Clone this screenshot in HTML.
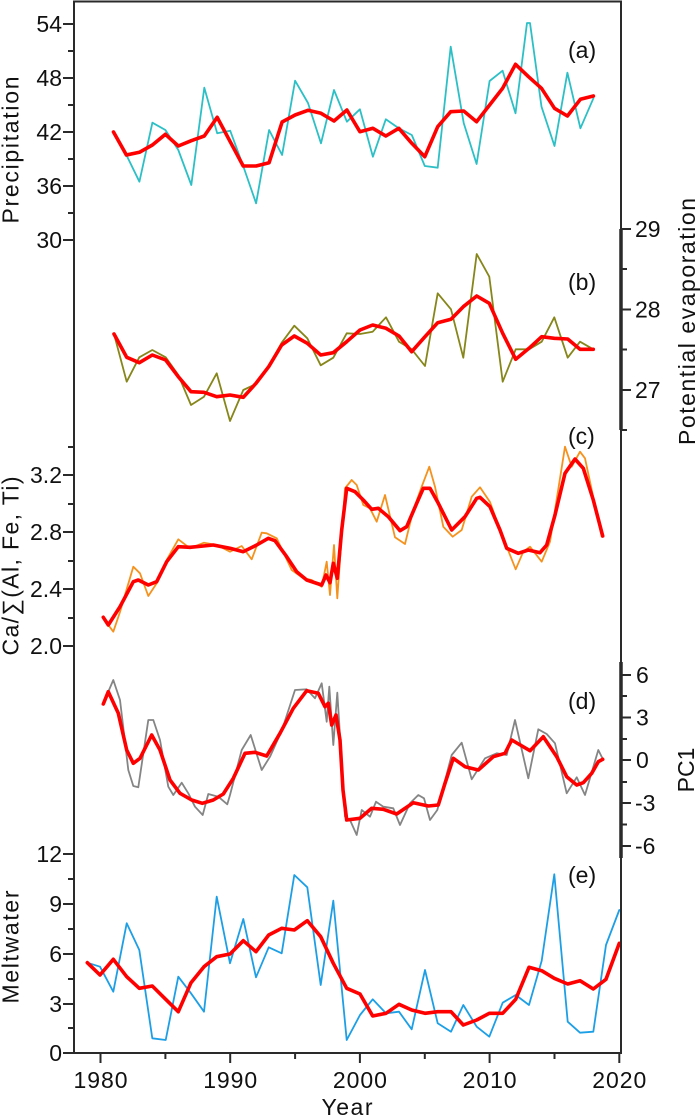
<!DOCTYPE html>
<html><head><meta charset="utf-8"><style>
html,body{margin:0;padding:0;background:#fff;}
svg{display:block;}
text{font-family:"Liberation Sans",Arial,sans-serif;font-size:23px;fill:#111;}
</style></head><body>
<svg width="700" height="1117" viewBox="0 0 700 1117" xmlns="http://www.w3.org/2000/svg">
<rect x="0" y="0" width="700" height="1117" fill="#fff"/>
<g fill="none" stroke-linejoin="round" stroke-linecap="round">
<!-- panel a -->
<polyline stroke="#2cc0c6" stroke-width="1.8" points="113.5,132 126.4,155 139.4,181.7 152.4,122.7 165.4,130 178.3,150 191.3,185 204.3,87.7 217.2,133.3 230.2,130.7 243.2,166 256.1,203.3 269.1,130 282.1,155 295.1,80.7 308,103 321,143.3 334,90 346.9,121.7 359.9,109.3 372.9,156.7 385.8,119.3 398.8,128.3 411.8,135 424.8,166 437.7,167.7 450.7,46.7 463.7,123 476.6,164 489.6,81 502.6,70.7 515.5,113.3 527,23 530,23 541.5,106.7 554.5,146 567.4,72.7 580.4,128.3 593.4,98.3"/>
<polyline stroke="#f00" stroke-width="3.6" points="113.5,132 126.4,155 139.4,152.3 152.4,145 165.4,134.3 178.3,146 191.3,140.7 204.3,136 217.2,117.3 230.2,141.7 243.2,166 256.1,166 269.1,162.7 282.1,122 295.1,115 308,110.3 321,113.3 334,121 346.9,110 359.9,131.7 372.9,128.3 385.8,136 398.8,128.3 411.8,143.3 424.8,156.7 437.7,126.7 450.7,111.7 463.7,111 476.6,121.7 489.6,105 502.6,88.3 515.5,64.3 528.5,76.7 541.5,88.3 554.5,108.3 567.4,116 580.4,99.3 593.4,96"/>
<!-- panel b -->
<polyline stroke="#86861a" stroke-width="1.8" points="114,334 126.7,381.7 139.3,357.3 152.3,350 165.7,357.3 178.3,375 191,405 204,396.7 216.7,373.3 230,421 243.3,390 256,384 268.7,366 281.7,342.7 294.3,325.7 307.3,338.3 320.7,365.3 333.3,357.7 346.7,333.3 360,334 372.7,331.7 386,317.3 399,341.7 411.7,349.3 425,366 437.7,293.3 451,309.3 463.3,357.7 476.7,254 489.3,276.7 502.7,381.7 515.7,349.3 529,349.3 541.7,341.7 554.3,317.3 567.7,357.7 580,341.7 593.3,349.3"/>
<polyline stroke="#f00" stroke-width="3.6" points="114,334 126.7,357.3 139.3,362.7 152.3,355 165.7,360 178.3,376.7 191,391.7 204,392.3 216.7,396.7 230,395 243.3,397.3 256,383.3 268.7,366.7 281.7,345 294.3,336 307.3,343.3 320.7,355 333.3,352.7 346.7,341.7 360,330 372.7,325 386,328.3 399,336 411.7,351.7 425,336.7 437.7,322.7 451,319.3 463.3,306.7 476.7,296 489.3,303.3 502.7,333.3 515.7,359.3 529,348.3 541.7,336.7 554.3,338.3 567.7,339 580,349.3 593.3,349.3"/>
<!-- panel c -->
<polyline stroke="#f5921e" stroke-width="1.8" points="103.3,618.3 113.3,631.7 120,612 133.3,566.7 140,573.3 148.3,596 156.7,583.3 166.7,560 178.3,539.3 190,548.3 204,542.7 216.7,545 230,551.7 241.7,546 251.7,559.3 261.7,532.7 266.7,533.3 276.7,538.3 291.7,570 303.3,578.3 311.7,580 321.7,586.7 326.7,561.7 330,595 334,545 337.3,598.3 345,488.3 351.7,480 356.7,485 363.3,505 370,508.3 376.7,521.7 385,495 395,537.3 405,544 413.3,510 421.7,486.7 429.3,466.7 435,486.7 443.3,526.7 452.7,536.7 461.7,530 471.7,496.7 480,487.3 490,502 500,530 506.7,546.7 515.7,569.3 523.3,551.7 530,546.7 541.7,561.7 550,541.7 565,446.7 571.7,466.7 580,451.7 585,458.3 601.7,536.7"/>
<polyline stroke="#f00" stroke-width="3.6" points="103.3,617.3 108.3,625 120,606.7 133.3,581.7 138.3,580 148.3,585 156.7,581.7 166.7,561.7 178.3,546.7 190,547.3 213.3,545 230,548.3 243.3,551.7 256.7,545 268.3,538.3 275,540.7 286.7,556.7 296.7,571.7 306.7,580 321.7,585 326,575 330,582.7 333.3,563.3 337.3,578.3 341.7,530 346.7,488.3 355,491.7 363.3,500 371.7,509.3 378.3,508.3 388.3,516.7 400,530.7 406.7,526.7 416.7,503.3 423.3,488.3 430,488.3 438.3,503.3 451.7,530 465,516.7 476.7,498.3 480,497.3 490,506.7 500,530 506.7,548.3 518.3,553.3 528.3,550 540,552.7 546.7,545 555,515 565,473.3 575,459 583.3,468.3 593.3,500 602.7,536"/>
<!-- panel d -->
<polyline stroke="#858585" stroke-width="1.8" points="103.3,703.3 113.3,680 120,700 128.3,770 133.3,786 138.3,787.3 148.3,720 153.3,720 160,740 168.3,786.7 173.3,795 181.7,782.7 188.3,793.3 195,806.7 202.7,815 208.3,794 218.3,796.7 227.3,804.3 230,795 241.7,750 250.7,735 261.7,770 270,756.7 282,730 295,690 306.7,689.3 315,698.3 321.7,683.3 326.7,721.7 329.3,686.7 333.3,745 337.3,692.7 345,816.7 350,820 356.7,835 361.7,810 370,816.7 376,801.7 383.3,806.7 393.3,808.3 400,825 410,803.3 418.3,795 424,798.3 430,820 437.3,810 451.7,755 461.7,742.7 471.7,779.3 485,758.3 496.7,753.3 506.7,755 515,720 528.3,778.3 538.3,729.3 546.7,734 555,743.3 566.7,793.3 576.7,777.3 585,795 598.3,750 603.3,760"/>
<polyline stroke="#f00" stroke-width="3.6" points="103.3,704 108.3,691.7 118.3,713.3 126.7,750 133.3,763.3 140,758.3 151.7,735 160,750 170,780 180,793.3 191.7,800 202.3,803.3 213.3,800 223.3,794 233.3,778.3 245,753.3 255,752.3 266.7,756 280,733.3 293.3,708.3 306.7,690.7 318.3,693.3 325,706.7 328.3,703.3 331.7,725 336,715 340,740 343,790 346.7,820 360,818.3 371.7,808.3 383.3,809.3 396.7,814 413.3,802.7 428.3,806 438.3,805 445,783.3 453.3,758.3 465,766.7 478.3,770 493.3,756.7 505,753.3 511.7,740 530,750.7 543.3,736.7 556.7,756.7 566.7,776.7 576.7,785 583.3,782.7 591.7,773.3 598.3,761.7 602.7,759.3"/>
<!-- panel e -->
<polyline stroke="#1d9fe6" stroke-width="1.8" points="87.3,962.7 100,966.7 113.3,991.7 126.7,923.3 139.3,950 152.3,1038.3 165.7,1040 178.3,976.7 191,993.3 204,1011.7 216.7,896.7 230,963.3 243.3,919 256,977.3 268.7,947.3 281.7,953.3 294.3,875 307.3,887.3 320.7,985 333.3,900.7 346.7,1040 360,1015 372.7,999.3 386,1013.3 399,1011.7 411.7,1029.3 425,970 437.7,1023.3 451,1031.7 463.3,1005 476.7,1026.7 489.3,1036.7 502.7,1002.7 515.7,995 529,1005 541.7,960.7 554.3,874.3 567.7,1021.7 580,1032.7 593.3,1031.7 606,945 619.3,910"/>
<polyline stroke="#f00" stroke-width="3.6" points="87.3,962.7 100,975 113.3,959.3 126.7,976.7 139.3,988.3 152.3,986 165.7,999.3 178.3,1011.7 191,982.7 204,966.7 216.7,956.7 230,954 243.3,940.7 256,951.7 268.7,935 281.7,928.3 294.3,930 307.3,920.7 320.7,936.7 333.3,963.3 346.7,988.3 360,994 372.7,1016 386,1013.3 399,1004.3 411.7,1010 425,1013.3 437.7,1011.7 451,1011.7 463.3,1025 476.7,1020 489.3,1013.3 502.7,1013.3 515.7,999.3 529,967.3 541.7,970.7 554.3,978.3 567.7,984 580,980.7 593.3,989 606,979.3 619.3,943.3"/>
</g>
<!-- frame -->
<g stroke="#2a2a2a" fill="none" stroke-width="2">
<rect x="74" y="1.5" width="547" height="1051.5"/>
<line x1="621" y1="229" x2="621" y2="430" stroke-width="3.5"/>
<line x1="621" y1="662" x2="621" y2="858" stroke-width="3.5"/>
<!-- left ticks a -->
<path d="M63,24H74 M68,51H74 M63,78H74 M68,105H74 M63,132H74 M68,159H74 M63,186H74 M68,213H74 M63,240H74"/>
<!-- left ticks c -->
<path d="M68,447H74 M63,475H74 M68,504H74 M63,532H74 M68,561H74 M63,589H74 M68,618H74 M63,646H74"/>
<!-- left ticks e -->
<path d="M63,854H74 M68,879H74 M63,904H74 M68,929H74 M63,954H74 M68,979H74 M63,1004H74 M68,1028H74 M63,1053H74"/>
<!-- bottom ticks -->
<path d="M100.5,1053V1063 M165.4,1053V1059 M230.2,1053V1063 M295.1,1053V1059 M359.9,1053V1063 M424.8,1053V1059 M489.6,1053V1063 M554.5,1053V1059 M619.3,1053V1063"/>
<!-- right ticks b -->
<path d="M621,229H631 M621,269H627 M621,309.5H631 M621,349.5H627 M621,390H631 M621,430H627"/>
<!-- right ticks d -->
<path d="M621,675H631 M621,696H627 M621,717.5H631 M621,739H627 M621,760H631 M621,782H627 M621,803H631 M621,824.5H627 M621,846H631"/>
</g>
<!-- left tick labels -->
<g text-anchor="end">
<text x="62" y="32">54</text>
<text x="62" y="86">48</text>
<text x="62" y="140">42</text>
<text x="62" y="194">36</text>
<text x="62" y="248">30</text>
<text x="62" y="483">3.2</text>
<text x="62" y="540">2.8</text>
<text x="62" y="597">2.4</text>
<text x="62" y="654">2.0</text>
<text x="62" y="862">12</text>
<text x="62" y="912">9</text>
<text x="62" y="962">6</text>
<text x="62" y="1012">3</text>
<text x="62" y="1061">0</text>
</g>
<!-- right tick labels -->
<g>
<text x="635" y="237">29</text>
<text x="635" y="317.5">28</text>
<text x="635" y="398">27</text>
<text x="636" y="683">6</text>
<text x="636" y="725.5">3</text>
<text x="636" y="768">0</text>
<text x="635" y="811">-3</text>
<text x="635" y="854">-6</text>
</g>
<!-- bottom labels -->
<g text-anchor="middle">
<text x="100.5" y="1088" textLength="54">1980</text>
<text x="230.2" y="1088" textLength="54">1990</text>
<text x="359.9" y="1088" textLength="54">2000</text>
<text x="489.6" y="1088" textLength="54">2010</text>
<text x="619.3" y="1088" textLength="54">2020</text>
<text x="347" y="1115" textLength="51">Year</text>
</g>
<!-- panel letters -->
<g>
<text x="568" y="58">(a)</text>
<text x="568" y="290">(b)</text>
<text x="568" y="444">(c)</text>
<text x="568" y="709">(d)</text>
<text x="568" y="883">(e)</text>
</g>
<!-- axis titles -->
<g text-anchor="middle">
<text x="18.5" y="150" transform="rotate(-90 18.5 150)" textLength="147">Precipitation</text>
<text x="18.5" y="566" transform="rotate(-90 18.5 566)" textLength="179">Ca/∑(Al, Fe, Ti)</text>
<text x="18.5" y="947" transform="rotate(-90 18.5 947)" textLength="113">Meltwater</text>
<text x="695" y="321.5" transform="rotate(-90 695 321.5)" textLength="247">Potential evaporation</text>
<text x="694" y="770" transform="rotate(-90 694 770)">PC1</text>
</g>
</svg>
</body></html>
